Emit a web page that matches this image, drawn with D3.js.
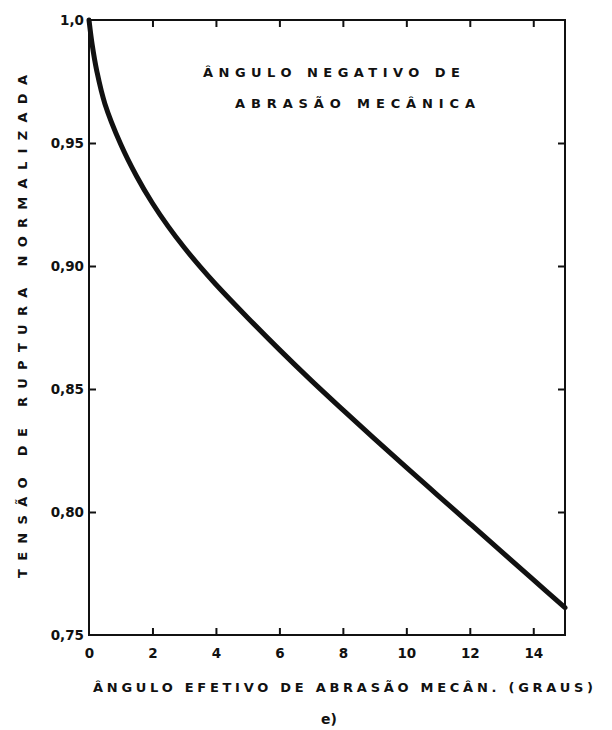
<!DOCTYPE html>
<html><head><meta charset="utf-8">
<script src="https://cdn.jsdelivr.net/npm/d3@7"></script>
<style>body{margin:0;background:#fff}svg{display:block}text{font-family:"DejaVu Sans",sans-serif;font-weight:bold;fill:#111}</style>
</head><body><svg id="c" width="612" height="730"></svg>
<script>
const angle = [0, 0.1, 0.25, 0.5, 1, 1.5, 2, 2.5, 3, 3.5, 4, 5, 6, 7, 8, 9, 10, 11, 12, 13, 14, 15];
const tension = [1.0, 0.990, 0.979, 0.966, 0.9495, 0.9365, 0.9255, 0.916, 0.9075, 0.89975, 0.8925, 0.879, 0.866, 0.8535, 0.8415, 0.8297, 0.8181, 0.8067, 0.7953, 0.7839, 0.7725, 0.7611];
const xTicks = [0, 2, 4, 6, 8, 10, 12, 14];
const yTicks = [0.75, 0.80, 0.85, 0.90, 0.95, 1.0];
const yTickLabels = ["0,75", "0,80", "0,85", "0,90", "0,95", "1,0"];
const titleLines = ["ÂNGULO NEGATIVO DE", "ABRASÃO MECÂNICA"];
const xTitle = "ÂNGULO  EFETIVO DE ABRASÃO MECÂN. (GRAUS)";
const yTitle = "TENSÃO DE RUPTURA NORMALIZADA";
const panel = "e)";

const svg = d3.select("#c");
const L = 89, R = 565, T = 20, B = 635;
const x = d3.scaleLinear().domain([0, 15]).range([L, R]);
const y = d3.scaleLinear().domain([0.75, 1.0]).range([B, T]);

const fmt = d => yTickLabels[yTicks.indexOf(d)];

svg.append("rect").attr("x", L).attr("y", T).attr("width", R - L).attr("height", B - T)
  .attr("fill", "none").attr("stroke", "#111").attr("stroke-width", 2);

const gB = svg.append("g").attr("transform", `translate(0,${B})`)
  .call(d3.axisBottom(x).tickValues(xTicks).tickSizeInner(-7).tickSizeOuter(0).tickPadding(13));
const gT = svg.append("g").attr("transform", `translate(0,${T})`)
  .call(d3.axisTop(x).tickValues(xTicks.filter(v => v > 0)).tickSizeInner(-7).tickSizeOuter(0).tickFormat(""));
const gL = svg.append("g").attr("transform", `translate(${L},0)`)
  .call(d3.axisLeft(y).tickValues(yTicks).tickSizeInner(-7).tickSizeOuter(0).tickPadding(5).tickFormat(fmt));
const gR = svg.append("g").attr("transform", `translate(${R},0)`)
  .call(d3.axisRight(y).tickValues(yTicks.filter(v => v > 0.75 && v < 1)).tickSizeInner(-7).tickSizeOuter(0).tickFormat(""));

[gB, gT, gL, gR].forEach(g => {
  g.select(".domain").remove();
  g.selectAll(".tick line").attr("stroke", "#111").attr("stroke-width", 2);
  g.selectAll("text").attr("font-size", 13.5).style("font-family", "DejaVu Sans").style("font-weight", "bold").attr("fill", "#111");
});
gL.selectAll(".tick").filter(d => d === 0.75 || d === 1.0).select("line").remove();
gB.selectAll(".tick").filter(d => d === 0).select("line").remove();

const line = d3.line().x((d, i) => x(angle[i])).y(d => y(d)).curve(d3.curveCatmullRom.alpha(0.5));
svg.append("path").datum(tension).attr("d", line)
  .attr("fill", "none").attr("stroke", "#111").attr("stroke-width", 5).attr("stroke-linecap", "round");

svg.append("text").attr("x", 203).attr("y", 77).attr("font-size", 13)
  .attr("textLength", 257).attr("lengthAdjust", "spacing").text(titleLines[0]);
svg.append("text").attr("x", 235).attr("y", 108).attr("font-size", 13)
  .attr("textLength", 240).attr("lengthAdjust", "spacing").text(titleLines[1]);

svg.append("text").attr("x", 93).attr("y", 692).attr("font-size", 13)
  .attr("textLength", 500).attr("lengthAdjust", "spacing").text(xTitle);
svg.append("text").attr("transform", "translate(27,578) rotate(-90)").attr("font-size", 13)
  .attr("textLength", 503).attr("lengthAdjust", "spacing").text(yTitle);

svg.append("text").attr("x", 321).attr("y", 724).attr("font-size", 14).text(panel);
</script></body></html>
